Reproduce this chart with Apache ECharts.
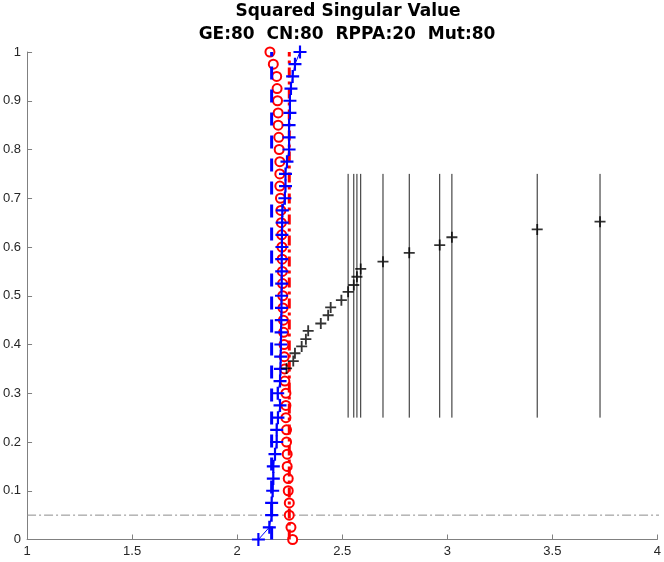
<!DOCTYPE html>
<html>
<head>
<meta charset="utf-8">
<script src="https://cdn.jsdelivr.net/npm/echarts@6/dist/echarts.min.js"></script>
<style>html,body{margin:0;padding:0;background:#fff;}#c{width:664px;height:562px;}</style>
</head>
<body>
<div id="c"></div>
<script>
// ---- data ----
var levels = [0,0.025,0.05,0.075,0.1,0.125,0.15,0.175,0.2,0.225,0.25,0.275,0.3,0.325,0.35,0.375,0.4,0.425,0.45,0.475,0.5,0.525,0.55,0.575,0.6,0.625,0.65,0.675,0.7,0.725,0.75,0.775,0.8,0.825,0.85,0.875,0.9,0.925,0.95,0.975,1];
var redX = [2.264,2.256,2.248,2.248,2.243,2.243,2.238,2.238,2.235,2.235,2.232,2.232,2.232,2.227,2.226,2.224,2.223,2.221,2.220,2.218,2.217,2.216,2.215,2.214,2.213,2.212,2.210,2.208,2.206,2.203,2.203,2.203,2.200,2.198,2.195,2.195,2.192,2.190,2.188,2.172,2.156];
var blueX = [2.101,2.153,2.164,2.164,2.169,2.172,2.172,2.180,2.188,2.188,2.194,2.204,2.193,2.204,2.206,2.207,2.208,2.209,2.210,2.211,2.211,2.212,2.212,2.212,2.213,2.213,2.214,2.215,2.227,2.230,2.230,2.237,2.247,2.247,2.247,2.251,2.251,2.256,2.264,2.275,2.299];
var blackX = [2.235,2.267,2.275,2.307,2.327,2.338,2.398,2.433,2.445,2.496,2.528,2.555,2.570,2.588,2.694,2.819,2.964,3.022,3.428,3.727];
var blackY = [0.351,0.366,0.382,0.396,0.411,0.428,0.443,0.460,0.476,0.491,0.508,0.522,0.539,0.555,0.570,0.588,0.604,0.620,0.636,0.652];
var vlineX = [2.528,2.555,2.570,2.588,2.694,2.819,2.964,3.022,3.428,3.727];
var vlineRange = [0.25, 0.75];
var redLineX = 2.248;
var blueLineX = 2.164;
var lineRange = [0, 1];
var threshold = 0.05;
var xTicks = [1, 4, 0.5];
var yTicks = [0, 1, 0.1];

// ---- chart ----
var plus = 'path://M5,0h2v5h5v2h-5v5h-2v-5h-5v-2h5z';
var series = [];
series.push({
  type:'line', data:[[xTicks[0],threshold],[4.03,threshold]], clip:false, symbol:'none', silent:true,
  lineStyle:{color:'#8c8c8c', width:1, type:[9,3,2,3]}, z:1
});
vlineX.forEach(function(x){
  series.push({type:'line', data:[[x,vlineRange[0]],[x,vlineRange[1]]], symbol:'none', silent:true,
    lineStyle:{color:'#222', width:1}, z:2});
});
series.push({
  type:'line', data:redX.map(function(x,i){return [x,levels[i]];}), symbol:'emptyCircle', symbolSize:9,
  lineStyle:{width:0, opacity:0}, itemStyle:{color:'#ff0000', borderColor:'#ff0000', borderWidth:1.6}, z:3
});
series.push({
  type:'line', data:[[redLineX,lineRange[0]],[redLineX,lineRange[1]]], symbol:'none',
  lineStyle:{color:'#ff0000', width:3, type:[10,4,3,4]}, z:4
});
series.push({
  type:'line', data:[[blueLineX,lineRange[0]],[blueLineX,lineRange[1]]], symbol:'none',
  lineStyle:{color:'#0000ff', width:3, type:[13,10]}, z:5
});
series.push({
  type:'line', data:blueX.map(function(x,i){return [x,levels[i]];}), symbol:plus, symbolSize:13,
  lineStyle:{color:'#0000ff', width:1}, itemStyle:{color:'#0000ff'}, z:6
});
series.push({
  type:'scatter', data:blackX.map(function(x,i){return [x,blackY[i]];}), symbol:plus, symbolSize:11,
  itemStyle:{color:'#000000'}, z:7
});

var axisLbl = {color:'#262626', fontSize:13, fontFamily:'Liberation Sans'};
var option = {
  animation:false,
  backgroundColor:'#ffffff',
  title:[
    {text:'Squared Singular Value', left:343, top:-2, textAlign:'center',
      textStyle:{fontFamily:'DejaVu Sans', fontWeight:'bold', fontSize:17, color:'#000'}},
    {text:'GE:80  CN:80  RPPA:20  Mut:80', left:342, top:21, textAlign:'center',
      textStyle:{fontFamily:'DejaVu Sans', fontWeight:'bold', fontSize:17, color:'#000'}}
  ],
  grid:{left:26, right:5, top:52, bottom:22.5, containLabel:false},
  xAxis:{type:'value', min:xTicks[0], max:xTicks[1], interval:xTicks[2],
    axisLine:{show:true, onZero:false, lineStyle:{color:'#808080', width:1}},
    axisTick:{show:true, inside:true, length:5, lineStyle:{color:'#808080'}},
    axisLabel:Object.assign({margin:5}, axisLbl), splitLine:{show:false}},
  yAxis:{type:'value', min:yTicks[0], max:yTicks[1], interval:yTicks[2],
    axisLine:{show:true, onZero:false, lineStyle:{color:'#808080', width:1}},
    axisTick:{show:true, inside:true, length:5, lineStyle:{color:'#808080'}},
    axisLabel:Object.assign({margin:6}, axisLbl), splitLine:{show:false}},
  series:series
};
var chart = echarts.init(document.getElementById('c'));
chart.setOption(option);
</script>
</body>
</html>
